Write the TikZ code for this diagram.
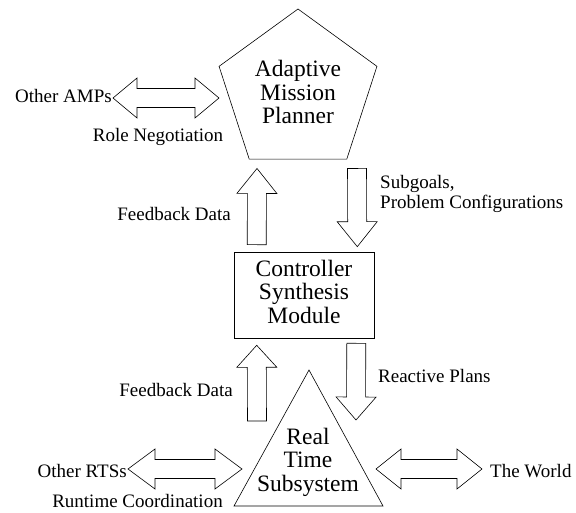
\documentclass[tikz,border=0pt]{standalone}
\usepackage{fontspec}
\newfontfamily\timesfont{Liberation Serif}
\usetikzlibrary{calc,shapes.geometric}

\tikzset{
  big/.style={font=\timesfont\fontsize{23.5}{23.5}\selectfont, align=center, inner sep=0pt},
  lbl/.style={font=\timesfont\fontsize{19}{20}\selectfont, inner sep=0pt},
  blockarrow/.style={draw, line width=.6pt, line join=miter},
}
\def\shaftw{9.5pt}
\def\headw{20pt}
% hollow arrow: tail, tip, head length
\newcommand\onearrow[3]{%
  \coordinate (hd) at ($(#2)!#3!(#1)$);
  \draw[blockarrow] ($(#1)!\shaftw!90:(#2)$) -- ($(hd)!\shaftw!90:(#2)$) -- ($(hd)!\headw!90:(#2)$) -- (#2)
    -- ($(hd)!\headw!-90:(#2)$) -- ($(hd)!\shaftw!-90:(#2)$) -- ($(#1)!\shaftw!-90:(#2)$) -- cycle;
}
% hollow arrow with two heads
\newcommand\twoarrow[3]{%
  \coordinate (ha) at ($(#1)!#3!(#2)$);
  \coordinate (hb) at ($(#2)!#3!(#1)$);
  \draw[blockarrow] (#1) -- ($(ha)!\headw!90:(#2)$) -- ($(ha)!\shaftw!90:(#2)$) -- ($(hb)!\shaftw!-90:(#1)$)
    -- ($(hb)!\headw!-90:(#1)$) -- (#2) -- ($(hb)!\headw!90:(#1)$) -- ($(hb)!\shaftw!90:(#1)$)
    -- ($(ha)!\shaftw!-90:(#2)$) -- ($(ha)!\headw!-90:(#2)$) -- cycle;
}

\begin{document}
\begin{tikzpicture}[x=1pt,y=1pt]
\useasboundingbox (0,0) rectangle (576,512);

\node[draw, line width=.6pt, regular polygon, regular polygon sides=5, minimum size=166pt, big] (amp) at (298,420) {Adaptive\\Mission\\Planner};
\node[draw, line width=.6pt, minimum width=140pt, minimum height=86pt, text depth=7pt, big] (csm) at (304,217) {Controller\\Synthesis\\Module};
\node[big] (rts) at (308,50) {Real\\Time\\Subsystem};
\coordinate (rts top) at (309,142);
\coordinate (rts left) at (234,6);
\coordinate (rts right) at (383,6);
\draw[line width=.6pt] (rts top) -- (rts left) -- (rts right) -- cycle;

\coordinate (fb1 tail) at ($(csm.north west)+(23,7)$);
\coordinate (fb1 tip) at ($(amp.south)+(-41,-9)$);
\coordinate (sg tail) at ($(amp.south)+(59,-9)$);
\coordinate (sg tip) at ($(csm.north east)+(-17,5)$);
\coordinate (fb2 tail) at (257,91);
\coordinate (fb2 tip) at ($(csm.south west)+(23,-7)$);
\coordinate (rp tail) at ($(csm.south east)+(-18,-5)$);
\coordinate (rp tip) at (356,92);
\onearrow{fb1 tail}{fb1 tip}{25pt}
\onearrow{sg tail}{sg tip}{25pt}
\onearrow{fb2 tail}{fb2 tip}{22pt}
\onearrow{rp tail}{rp tip}{23pt}

\coordinate (amps end) at (113,414);
\coordinate (amp end) at (219,414);
\coordinate (rtss end) at (128,43);
\coordinate (rts l end) at (242,43);
\coordinate (rts r end) at (376,43);
\coordinate (world end) at (482,43);
\twoarrow{amps end}{amp end}{24pt}
\twoarrow{rtss end}{rts l end}{27pt}
\twoarrow{rts r end}{world end}{25pt}

\node[lbl, anchor=base east] (amps) at (112,409) {Other AMPs};
\node[lbl, anchor=base] (role) at (158,370) {Role Negotiation};
\node[lbl, anchor=base east] (fb1) at (231,291) {Feedback Data};
\node[lbl, anchor=north west, align=left] (sg) at (380,337) {Subgoals,\\Problem Configurations};
\node[lbl, anchor=base east] (fb2) at (233,116) {Feedback Data};
\node[lbl, anchor=base west] (rp) at (378,129) {Reactive Plans};
\node[lbl, anchor=base east] (rtss) at (127,35) {Other RTSs};
\node[lbl, anchor=base] (rc) at (137.5,5) {Runtime Coordination};
\node[lbl, anchor=base west] (world) at (490,35) {The World};
\end{tikzpicture}
\end{document}
